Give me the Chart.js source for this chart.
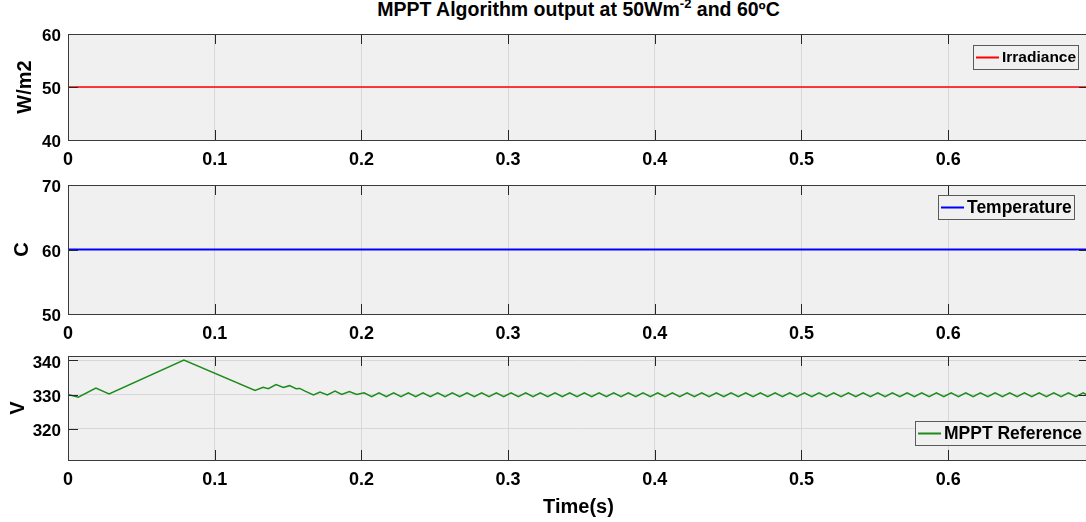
<!DOCTYPE html>
<html>
<head>
<meta charset="utf-8">
<script src="https://cdn.jsdelivr.net/npm/chart.js@4.4.1/dist/chart.umd.min.js"></script>
<style>
html, body { margin: 0; padding: 0; background: #ffffff; width: 1086px; height: 522px; overflow: hidden; }
#wrap { position: relative; width: 1086px; height: 522px; overflow: hidden; }
canvas { position: absolute; left: 0; top: 0; }
#title { position: absolute; left: 0; top: -2px; width: 1157px; text-align: center; white-space: nowrap;
  font: bold 19.5px "Liberation Sans", Arial, Helvetica, sans-serif; line-height: 22px; color: #000; }
#title sup { font-size: 13px; line-height: 0; vertical-align: 8px; }
</style>
</head>
<body>
<div id="wrap">
  <div id="title">MPPT Algorithm output at 50Wm<sup>-2</sup> and 60ºC</div>
  <canvas id="c1" width="1089" height="522"></canvas>
  <canvas id="c2" width="1089" height="522"></canvas>
  <canvas id="c3" width="1089" height="522"></canvas>
</div>
<script>
// ---------------- data ----------------
const timeSpan = [0, 0.696];
const irradianceValues = [50, 50];
const temperatureValues = [60, 60];
const irradianceLimits = [40, 60];
const temperatureLimits = [50, 70];
const mpptLimits = [310.8, 341.3];

const mpptTimes = [
  0, 0.007, 0.019, 0.028, 0.079, 0.1275, 0.133, 0.1366, 0.1418, 0.1468, 0.151,
  0.1555, 0.158, 0.1616, 0.1673, 0.1718, 0.1768, 0.182, 0.1866, 0.1918, 0.1968, 0.2018,
  0.207, 0.212, 0.217, 0.222, 0.227, 0.232, 0.237, 0.242, 0.247, 0.252,
  0.257, 0.262, 0.267, 0.272, 0.277, 0.282, 0.287, 0.292, 0.297, 0.302,
  0.307, 0.312, 0.317, 0.322, 0.327, 0.332, 0.337, 0.342, 0.347, 0.352,
  0.357, 0.362, 0.367, 0.372, 0.377, 0.382, 0.387, 0.392, 0.397, 0.402,
  0.407, 0.412, 0.417, 0.422, 0.427, 0.432, 0.437, 0.442, 0.447, 0.452,
  0.457, 0.462, 0.467, 0.472, 0.477, 0.482, 0.487, 0.492, 0.497, 0.502,
  0.507, 0.512, 0.517, 0.522, 0.527, 0.532, 0.537, 0.542, 0.547, 0.552,
  0.557, 0.562, 0.567, 0.572, 0.577, 0.582, 0.587, 0.592, 0.597, 0.602,
  0.607, 0.612, 0.617, 0.622, 0.627, 0.632, 0.637, 0.642, 0.647, 0.652,
  0.657, 0.662, 0.667, 0.672, 0.677, 0.682, 0.687, 0.692,
  0.696
];
const mpptValues = [
  330.0, 329.2, 331.9, 330.2, 340.1, 331.2, 332.1, 331.7, 332.9, 332.1, 332.6,
  331.7, 331.8, 331.0, 329.9, 330.7, 329.9, 331.0, 330.0, 330.9, 330.0, 330.5,
  329.4, 330.5, 329.4, 330.5, 329.4, 330.5, 329.4, 330.5, 329.4, 330.5,
  329.4, 330.5, 329.4, 330.5, 329.4, 330.5, 329.4, 330.5, 329.4, 330.5,
  329.4, 330.5, 329.4, 330.5, 329.4, 330.5, 329.4, 330.5, 329.4, 330.5,
  329.4, 330.5, 329.4, 330.5, 329.4, 330.5, 329.4, 330.5, 329.4, 330.5,
  329.4, 330.5, 329.4, 330.5, 329.4, 330.5, 329.4, 330.5, 329.4, 330.5,
  329.4, 330.5, 329.4, 330.5, 329.4, 330.5, 329.4, 330.5, 329.4, 330.5,
  329.4, 330.5, 329.4, 330.5, 329.4, 330.5, 329.4, 330.5, 329.4, 330.5,
  329.4, 330.5, 329.4, 330.5, 329.4, 330.5, 329.4, 330.5, 329.4, 330.5,
  329.4, 330.5, 329.4, 330.5, 329.4, 330.5, 329.4, 330.5, 329.4, 330.5,
  329.4, 330.5, 329.4, 330.5, 329.4, 330.5, 329.4, 330.5,
  329.6
];
const xLimits = [0, 0.696];
const xStep = 0.1;

// ---------------- drawing ----------------
const FONT = '"Liberation Sans", Arial, Helvetica, sans-serif';

const toPoints = (xs, ys) => xs.map((x, i) => ({ x: x, y: ys[i] }));

const matlabAxes = {
  id: 'matlabAxes',
  beforeDraw(chart) {
    const { ctx, chartArea: a } = chart;
    ctx.save();
    ctx.fillStyle = '#f0f0f0';
    ctx.fillRect(a.left, a.top, a.right - a.left, a.bottom - a.top);
    ctx.restore();
  },
  afterDraw(chart, args, opts) {
    const { ctx, chartArea: a, scales: { x, y } } = chart;
    const L = 10;
    ctx.save();
    ctx.strokeStyle = '#262626';
    ctx.lineWidth = 1;
    ctx.beginPath();
    x.ticks.forEach(t => {
      const p = Math.round(x.getPixelForValue(t.value)) + 0.5;
      ctx.moveTo(p, a.top); ctx.lineTo(p, a.top + L);
      ctx.moveTo(p, a.bottom); ctx.lineTo(p, a.bottom - L);
    });
    y.ticks.forEach(t => {
      const p = Math.round(y.getPixelForValue(t.value)) + 0.5;
      ctx.moveTo(a.left, p); ctx.lineTo(a.left + L, p);
      ctx.moveTo(a.right, p); ctx.lineTo(a.right - L, p);
    });
    ctx.stroke();
    ctx.strokeStyle = '#3a3a3a';
    ctx.strokeRect(Math.round(a.left) + 0.5, Math.round(a.top) + 0.5,
                   Math.round(a.right - a.left), Math.round(a.bottom - a.top));

    // legend box
    const lg = opts.legend;
    const ds = chart.data.datasets[0];
    const h = 24;
    const left = lg.left, top = lg.top, w = lg.right - lg.left;
    ctx.fillStyle = '#f0f0f0';
    ctx.fillRect(left, top, w, h);
    ctx.strokeStyle = '#5a5a5a';
    ctx.lineWidth = 1;
    ctx.strokeRect(left + 0.5, top + 0.5, w, h);
    ctx.strokeStyle = ds.borderColor;
    ctx.lineWidth = 2;
    ctx.beginPath();
    ctx.moveTo(left + 3, top + 12.5); ctx.lineTo(left + 26, top + 12.5);
    ctx.stroke();
    ctx.font = 'bold ' + lg.size + 'px ' + FONT;
    ctx.fillStyle = '#000';
    ctx.textAlign = 'left';
    ctx.textBaseline = 'middle';
    ctx.fillText(ds.label, left + 29, top + h / 2 + 1);
    ctx.restore();
  }
};

function makeOptions(p) {
  return {
    responsive: false,
    animation: false,
    devicePixelRatio: 1,
    layout: { padding: { left: 0, right: 0, top: p.padTop, bottom: p.padBottom } },
    elements: { point: { radius: 0 }, line: { tension: 0 } },
    plugins: {
      legend: { display: false },
      title: { display: false },
      tooltip: { enabled: false },
      matlabAxes: { legend: p.legend }
    },
    scales: {
      x: {
        type: 'linear',
        min: xLimits[0], max: xLimits[1],
        afterFit: s => { s.height = p.xHeight; },
        border: { display: false },
        grid: { color: '#d7d7d7', drawTicks: false, lineWidth: 1 },
        ticks: {
          stepSize: xStep, includeBounds: false, padding: 9, maxRotation: 0, autoSkip: false,
          color: '#000', font: { family: FONT, size: 18, weight: 'bold' }
        },
        title: p.xTitle ? {
          display: true, text: p.xTitle, color: '#000',
          font: { family: FONT, size: 20, weight: 'bold' }, padding: { top: 0, bottom: 3 }
        } : { display: false }
      },
      y: {
        type: 'linear',
        min: p.yLimits[0], max: p.yLimits[1],
        afterFit: s => { s.width = 68; },
        border: { display: false },
        grid: { color: '#d7d7d7', drawTicks: false, lineWidth: 1 },
        ticks: {
          stepSize: 10, includeBounds: false, padding: 7, labelOffset: 2.5,
          color: '#000', font: { family: FONT, size: 17, weight: 'bold' }
        },
        title: {
          display: true, text: p.yTitle, color: '#000',
          font: { family: FONT, size: 20, weight: 'bold' }, padding: { top: p.yTitlePad, bottom: 0 }
        }
      }
    }
  };
}

new Chart(document.getElementById('c1'), {
  type: 'line',
  data: { datasets: [{ label: 'Irradiance', data: toPoints(timeSpan, irradianceValues),
    borderColor: '#ff0000', borderWidth: 1.6, fill: false }] },
  options: makeOptions({ padTop: 34, padBottom: 352, xHeight: 30, yLimits: irradianceLimits,
    yTitle: 'W/m2', yTitlePad: 13, legend: { left: 973, right: 1078, top: 45, size: 15.5 } }),
  plugins: [matlabAxes]
});

new Chart(document.getElementById('c2'), {
  type: 'line',
  data: { datasets: [{ label: 'Temperature', data: toPoints(timeSpan, temperatureValues),
    borderColor: '#0000ff', borderWidth: 1.8, fill: false }] },
  options: makeOptions({ padTop: 185, padBottom: 178, xHeight: 30, yLimits: temperatureLimits,
    yTitle: 'C', yTitlePad: 10, legend: { left: 938, right: 1074, top: 195, size: 17.5 } }),
  plugins: [matlabAxes]
});

new Chart(document.getElementById('c3'), {
  type: 'line',
  data: { datasets: [{ label: 'MPPT Reference', data: toPoints(mpptTimes, mpptValues),
    borderColor: '#1c8c1c', borderWidth: 1.5, fill: false }] },
  options: makeOptions({ padTop: 356, padBottom: 0, xHeight: 62, yLimits: mpptLimits,
    yTitle: 'V', yTitlePad: 6, xTitle: 'Time(s)', legend: { left: 915, right: 1095, top: 421, size: 17.5 } }),
  plugins: [matlabAxes]
});
</script>
</body>
</html>
